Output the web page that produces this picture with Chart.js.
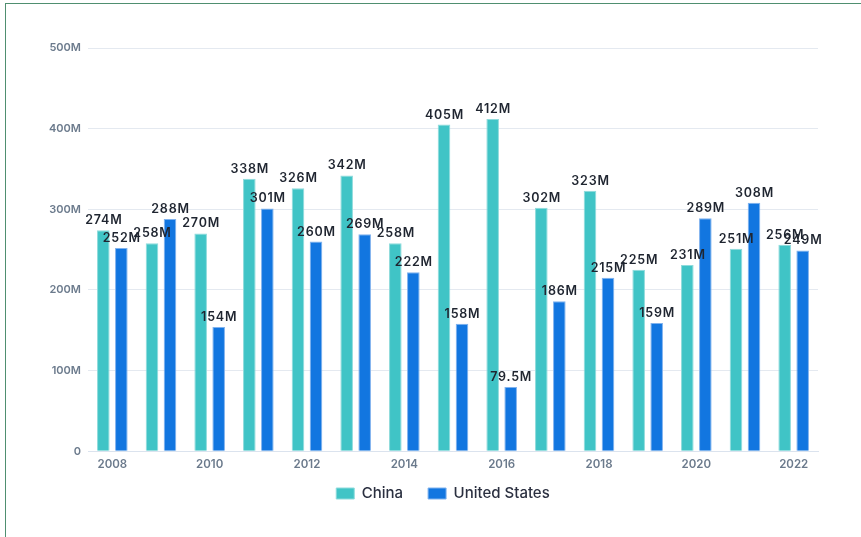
<!DOCTYPE html>
<html>
<head>
<meta charset="utf-8">
<script src="https://cdn.jsdelivr.net/npm/chart.js@4"></script>
<style>
  body { margin: 0; background: #fff; }
  #frame { position: absolute; left: 5px; top: 3px; width: 900px; height: 600px; border: 1.5px solid #4f8f70; }
  #wrap { position: absolute; left: 0; top: 0; width: 861px; height: 537px; }
</style>
</head>
<body>
<div id="frame"></div>
<div id="wrap"><canvas id="chart"></canvas></div>
<script>
// chart data
const years = ['2008', '2009', '2010', '2011', '2012', '2013', '2014', '2015', '2016', '2017', '2018', '2019', '2020', '2021', '2022'];
const china = [274, 258, 270, 338, 326, 342, 258, 405, 412, 302, 323, 225, 231, 251, 256];
const unitedStates = [252, 288, 154, 301, 260, 269, 222, 158, 79.5, 186, 215, 159, 289, 308, 249];
const yTicks = [0, 100, 200, 300, 400, 500];

function fmt(v) {
    return v === 0 ? '0' : v + 'M';
}

// draws the value above every bar
const barLabels = {
    id: 'barLabels',
    afterDatasetsDraw(chart) {
        const ctx = chart.ctx;
        ctx.save();
        ctx.font = '600 12.5px Inter, "DejaVu Sans", sans-serif';
        ctx.letterSpacing = '0.8px';
        ctx.fillStyle = '#1f2530';
        ctx.textAlign = 'center';
        ctx.textBaseline = 'alphabetic';
        chart.data.datasets.forEach((ds, i) => {
            chart.getDatasetMeta(i).data.forEach((bar, j) => {
                ctx.fillText(fmt(ds.data[j]), bar.x + 0.5, bar.y - 6);
            });
        });
        ctx.restore();
    }
};

// nudge the legend closer to the axis and a bit to the right
const legendShift = {
    id: 'legendShift',
    afterLayout(chart) {
        const lg = chart.legend;
        lg.top -= 16; lg.bottom -= 16;
        lg.left += 24; lg.right += 24;
    }
};

const ctx = document.getElementById('chart').getContext('2d');
new Chart(ctx, {
    type: 'bar',
    data: {
        labels: years,
        datasets: [{
            label: 'China',
            data: china,
            backgroundColor: '#40c4c6',
            borderColor: '#8edbdc',
            borderWidth: 1
        }, {
            label: 'United States',
            data: unitedStates,
            backgroundColor: '#1276e0',
            borderColor: '#7fb2ee',
            borderWidth: 1
        }]
    },
    options: {
        responsive: true,
        maintainAspectRatio: false,
        animation: false,
        datasets: {
            bar: { categoryPercentage: 0.74, barPercentage: 0.7 }
        },
        layout: {
            padding: { left: 20, right: 43, top: 48, bottom: 10 }
        },
        plugins: {
            legend: {
                position: 'bottom',
                labels: {
                    boxWidth: 18,
                    boxHeight: 11,
                    padding: 25,
                    color: '#2b3040',
                    font: { family: 'Inter, sans-serif', size: 15, weight: '500' }
                }
            },
            tooltip: { enabled: false }
        },
        scales: {
            x: {
                grid: { display: false, drawTicks: false },
                border: { color: '#dbe3ee' },
                ticks: {
                    padding: 6,
                    maxRotation: 0,
                    color: '#6b7a8c',
                    font: { family: 'Inter, sans-serif', size: 11.5, weight: '600' },
                    callback: function (val, i) { return i % 2 === 0 ? years[i] : ''; }
                }
            },
            y: {
                min: 0,
                max: 500,
                afterFit: s => { s.width = 68; },
                afterBuildTicks: s => { s.ticks = yTicks.map(v => ({ value: v })); },
                grid: { color: '#e4e9f0', drawTicks: false },
                border: { display: false },
                ticks: {
                    padding: 7,
                    color: '#6b7a8c',
                    font: { family: 'Inter, sans-serif', size: 11, weight: '600' },
                    callback: v => fmt(v)
                }
            }
        }
    },
    plugins: [barLabels, legendShift]
});
</script>
</body>
</html>
